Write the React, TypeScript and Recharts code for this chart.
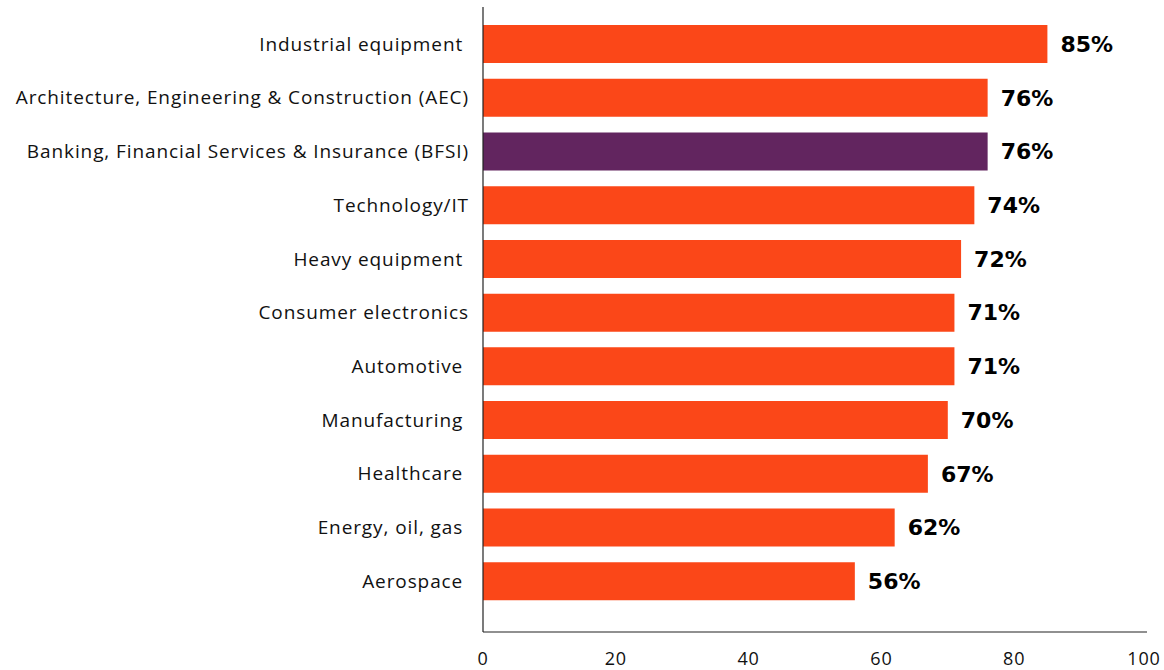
import React from "react";
import { BarChart, Bar, XAxis, YAxis, Cell, LabelList } from "recharts";

const industries = [
  "Industrial equipment\u00A0",
  "Architecture, Engineering & Construction (AEC)",
  "Banking, Financial Services & Insurance (BFSI)",
  "Technology/IT",
  "Heavy equipment\u00A0",
  "Consumer electronics",
  "Automotive\u00A0",
  "Manufacturing\u00A0",
  "Healthcare\u00A0",
  "Energy, oil, gas\u00A0",
  "Aerospace\u00A0",
];
const shares = [85, 76, 76, 74, 72, 71, 71, 70, 67, 62, 56];
const highlighted = "Banking, Financial Services & Insurance (BFSI)";
const xTicks = [0, 20, 40, 60, 80, 100];

const ORANGE = "#FB4718";
const PURPLE = "#62255F";
const FONT = "'Open Sans', sans-serif";
const VALUE_FONT = "'DejaVu Sans', sans-serif";

const rows = industries.map((name, i) => ({ name, value: shares[i] }));

export default function App() {
  return (
    <div style={{ position: "absolute", left: 0, top: 0, width: 1164, height: 670, background: "#fff" }}>
      <BarChart
        width={1164}
        height={670}
        data={rows}
        layout="vertical"
        margin={{ top: 7, right: 17, bottom: 8, left: 0 }}
      >
        <XAxis
          type="number"
          domain={[0, 100]}
          ticks={xTicks}
          height={30}
          tickLine={false}
          axisLine={{ stroke: "#222", strokeWidth: 1.2 }}
          tickSize={6}
          tickMargin={14}
          tick={{ fill: "#111", fontSize: 18, fontFamily: FONT, letterSpacing: 0.8 }}
        />
        <YAxis
          type="category"
          dataKey="name"
          width={483}
          tickLine={false}
          axisLine={{ stroke: "#222", strokeWidth: 1.2 }}
          padding={{ top: 10, bottom: 24 }}
          tickMargin={8}
          interval={0}
          tick={{ fill: "#111", fontSize: 19, fontFamily: FONT, letterSpacing: 0.9 }}
        />
        <Bar dataKey="value" barSize={38} isAnimationActive={false}>
          {rows.map((r) => (
            <Cell key={r.name} fill={r.name === highlighted ? PURPLE : ORANGE} />
          ))}
          <LabelList
            dataKey="value"
            position="right"
            offset={13}
            formatter={(v: number) => `${v}%`}
            style={{ fill: "#000", fontSize: 22, fontWeight: 700, fontFamily: VALUE_FONT }}
          />
        </Bar>
      </BarChart>
    </div>
  );
}
